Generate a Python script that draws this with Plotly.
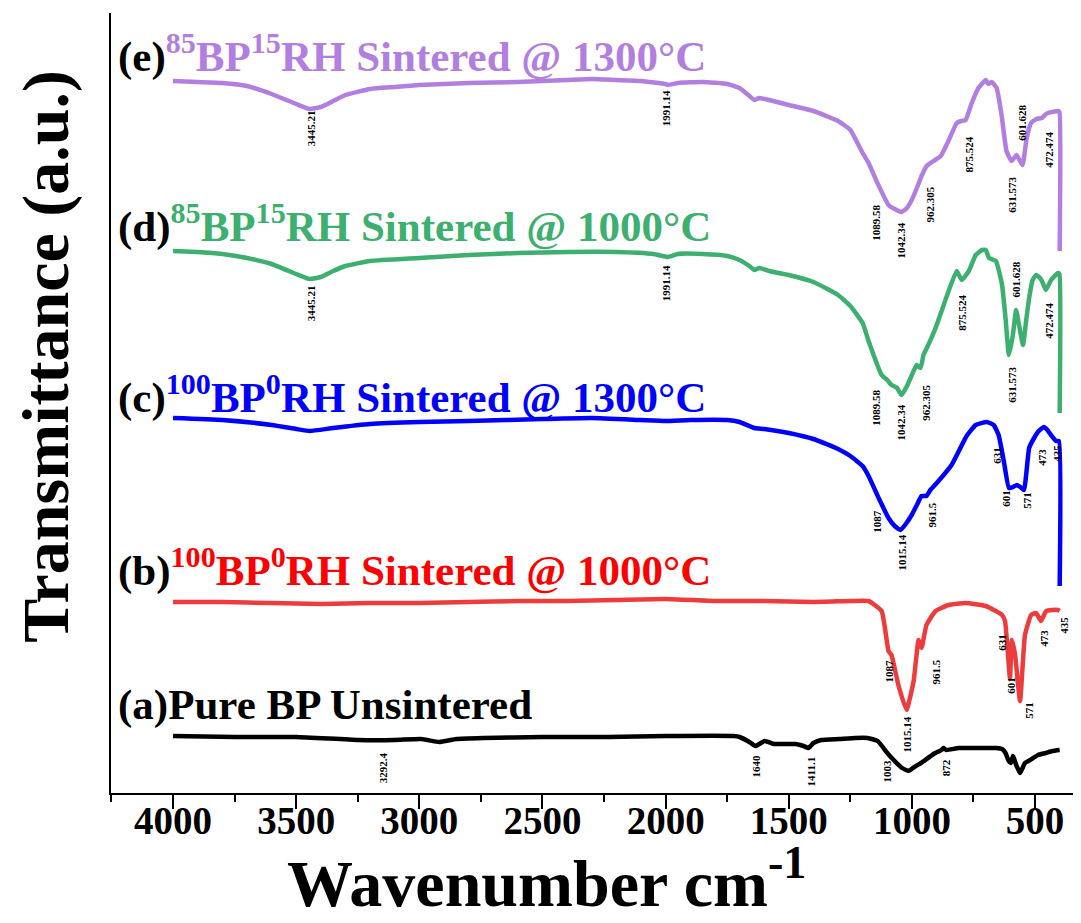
import plotly.graph_objects as go

# ---------------- data (offset-stacked transmittance, a.u.) ----------------
wn_e = [4000, 3900, 3800, 3700, 3600, 3500, 3445, 3400, 3350, 3300, 3200, 3100, 3000, 2900, 2800, 2600, 2400, 2300,
        2200, 2100, 2000, 1991, 1950, 1850, 1750, 1700, 1660, 1640, 1620, 1580, 1500, 1400, 1300, 1250, 1200, 1176,
        1140, 1095, 1070, 1042, 1020, 1001, 980, 961, 940, 912, 883, 850, 818, 800, 782, 757, 730, 700, 690, 676,
        656, 636, 616, 596, 585, 575, 551, 534, 516, 495, 472, 460, 448, 430, 407, 401, 400]
t_e = [7.27, 7.26, 7.25, 7.22, 7.14, 7.04, 6.99, 7.01, 7.07, 7.13, 7.19, 7.21, 7.23, 7.24, 7.25, 7.26, 7.28, 7.29,
       7.28, 7.27, 7.24, 7.23, 7.25, 7.26, 7.24, 7.20, 7.12, 7.08, 7.10, 7.08, 7.03, 6.97, 6.87, 6.78, 6.55, 6.45,
       6.25, 6.03, 5.99, 5.96, 6.00, 6.08, 6.20, 6.32, 6.42, 6.47, 6.52, 6.68, 6.85, 6.87, 6.88, 7.05, 7.20, 7.28, 7.24, 7.26,
       7.20, 6.93, 6.57, 6.47, 6.50, 6.53, 6.43, 6.70, 6.85, 6.89, 6.90, 6.93, 6.95, 6.96, 6.97, 6.96, 5.57]

wn_d = [4000, 3900, 3800, 3700, 3600, 3500, 3445, 3400, 3350, 3300, 3200, 3000, 2800, 2600, 2400, 2200, 2050, 1991,
        1950, 1850, 1750, 1700, 1660, 1640, 1620, 1580, 1500, 1400, 1300, 1250, 1200, 1176, 1123, 1100, 1083, 1060,
        1042, 1020, 993, 981, 965, 953, 930, 904, 851, 818, 798, 769, 741, 715, 700, 687, 659, 634, 620, 606, 590,
        577, 565, 549, 535, 524, 510, 496, 480, 472, 456, 435, 407, 401, 400]
t_d = [5.57, 5.56, 5.54, 5.50, 5.44, 5.34, 5.29, 5.31, 5.37, 5.42, 5.47, 5.50, 5.53, 5.55, 5.56, 5.56, 5.54, 5.51,
       5.54, 5.54, 5.52, 5.48, 5.42, 5.38, 5.40, 5.37, 5.33, 5.26, 5.13, 5.02, 4.85, 4.67, 4.33, 4.28, 4.23, 4.20,
       4.13, 4.22, 4.37, 4.43, 4.40, 4.53, 4.65, 4.80, 5.17, 5.37, 5.28, 5.37, 5.53, 5.58, 5.58, 5.50, 5.47, 5.23,
       4.90, 4.53, 4.73, 4.98, 4.83, 4.63, 4.90, 5.10, 5.28, 5.33, 5.30, 5.27, 5.18, 5.28, 5.35, 5.34, 3.95]

wn_c = [4000, 3800, 3600, 3500, 3445, 3350, 3200, 3000, 2800, 2500, 2300, 2100, 2000, 1900, 1750, 1700, 1640, 1600,
        1500, 1400, 1300, 1250, 1200, 1176, 1135, 1095, 1070, 1046, 1025, 1001, 980, 961, 941, 925, 892, 839, 778,
        741, 696, 668, 648, 627, 606, 590, 573, 560, 545, 524, 504, 485, 464, 450, 435, 415, 403, 400]
t_c = [3.90, 3.88, 3.83, 3.79, 3.77, 3.80, 3.84, 3.86, 3.87, 3.89, 3.90, 3.88, 3.87, 3.88, 3.88, 3.86, 3.80, 3.79,
       3.75, 3.69, 3.59, 3.52, 3.42, 3.32, 3.10, 2.90, 2.82, 2.78, 2.84, 2.93, 3.03, 3.12, 3.12, 3.18, 3.27, 3.43, 3.72,
       3.83, 3.86, 3.83, 3.73, 3.47, 3.20, 3.21, 3.23, 3.21, 3.18, 3.60, 3.70, 3.77, 3.81, 3.78, 3.73, 3.67, 3.67, 2.22]

wn_b = [4000, 3800, 3600, 3400, 3200, 3000, 2800, 2600, 2400, 2200, 2000, 1800, 1600, 1400, 1250, 1176, 1123, 1095,
        1083, 1055, 1022, 993, 973, 961, 941, 904, 851, 782, 700, 634, 622, 602, 594, 581, 561, 541, 516, 496, 476,
        455, 430, 407, 400]
t_b = [2.06, 2.06, 2.05, 2.04, 2.05, 2.05, 2.06, 2.07, 2.07, 2.08, 2.09, 2.07, 2.07, 2.06, 2.07, 2.07, 1.97, 1.57,
       1.53, 1.23, 0.98, 1.27, 1.68, 1.60, 1.83, 1.97, 2.03, 2.05, 2.02, 1.93, 1.87, 1.30, 1.68, 1.53, 1.07, 1.73,
       1.93, 1.95, 1.87, 1.97, 1.98, 1.98, 1.97]

wn_a = [4000, 3750, 3500, 3248, 3100, 2994, 2919, 2850, 2740, 2500, 2232, 2000, 1724, 1700, 1660, 1635, 1598, 1560,
        1534, 1471, 1440, 1420, 1400, 1369, 1294, 1230, 1180, 1139, 1100, 1078, 1040, 1013, 990, 963, 912, 880, 872,
        861, 810, 700, 658, 634, 620, 607, 598, 590, 575, 561, 541, 520, 488, 457, 430, 400]
t_a = [0.72, 0.71, 0.71, 0.68, 0.68, 0.69, 0.66, 0.69, 0.70, 0.71, 0.71, 0.72, 0.72, 0.71, 0.66, 0.62, 0.67, 0.64,
       0.64, 0.64, 0.62, 0.60, 0.65, 0.68, 0.69, 0.70, 0.70, 0.67, 0.55, 0.49, 0.40, 0.37, 0.41, 0.45, 0.54, 0.58, 0.60,
       0.58, 0.60, 0.60, 0.60, 0.59, 0.55, 0.47, 0.45, 0.52, 0.42, 0.35, 0.45, 0.48, 0.53, 0.55, 0.57, 0.58]

# peak labels: text, x (cm-1), y (a.u.)
lab_e = ["3445.21", "1991.14", "1089.58", "1042.34", "962.305", "875.524", "631.573", "601.628", "472.474"]
lx_e = [3439, 1997, 1147, 1046, 925, 770, 595, 554, 444]
ly_e = [6.80, 7.00, 5.85, 5.67, 6.04, 6.53, 6.13, 6.85, 6.58]

lab_d = ["3445.21", "1991.14", "1089.58", "1042.34", "962.305", "875.524", "631.573", "601.628", "472.474"]
lx_d = [3439, 1997, 1147, 1046, 944, 798, 595, 579, 444]
ly_d = [5.05, 5.25, 4.00, 3.85, 4.05, 4.95, 4.23, 5.28, 4.87]

lab_c = ["1087", "1015.14", "961.5", "631", "601", "571", "473", "435"]
lx_c = [1143, 1042, 920, 656, 619, 534, 473, 412]
ly_c = [2.87, 2.55, 2.93, 3.53, 3.10, 3.08, 3.51, 3.55]

lab_b = ["1087", "1015.14", "961.5", "631", "601", "571", "473", "435"]
lx_b = [1095, 1018, 904, 635, 599, 526, 465, 384]
ly_b = [1.37, 0.74, 1.36, 1.66, 1.23, 0.98, 1.70, 1.83]

lab_a = ["3292.4", "1640", "1411.1", "1003", "872"]
lx_a = [3147, 1635, 1408, 1103, 861]
ly_a = [0.40, 0.42, 0.37, 0.37, 0.40]

names = ["(a)", "(b)", "(c)", "(d)", "(e)"]
titles = ["Pure BP Unsintered",
          "<sup>100</sup>BP<sup>0</sup>RH Sintered @ 1000°C",
          "<sup>100</sup>BP<sup>0</sup>RH Sintered @ 1300°C",
          "<sup>85</sup>BP<sup>15</sup>RH Sintered @ 1000°C",
          "<sup>85</sup>BP<sup>15</sup>RH Sintered @ 1300°C"]
line_colors = ["#000000", "#EE3B3B", "#0000FF", "#3DAF6E", "#B27FE0"]
text_colors = ["#000000", "#FF0000", "#0000FF", "#3DAF6E", "#B27FE0"]

series = [(wn_a, t_a), (wn_b, t_b), (wn_c, t_c), (wn_d, t_d), (wn_e, t_e)]
labels = [(lab_a, lx_a, ly_a), (lab_b, lx_b, ly_b), (lab_c, lx_c, ly_c), (lab_d, lx_d, ly_d), (lab_e, lx_e, ly_e)]

FONT = "Liberation Serif"

fig = go.Figure()
for (x, y), col, nm in zip(series, line_colors, names):
    fig.add_trace(go.Scatter(x=x, y=y, mode="lines", name=nm,
                             line=dict(color=col, width=4.5, shape="spline", smoothing=0.4),
                             showlegend=False, hoverinfo="skip"))

ann = []
for (txt, xs, ys) in labels:
    for t, xx, yy in zip(txt, xs, ys):
        ann.append(dict(x=xx, y=yy, xref="x", yref="y", text="<b>%s</b>" % t, showarrow=False,
                        textangle=-90, xanchor="center", yanchor="middle",
                        font=dict(family=FONT, size=11, color="black")))

# series titles (positions in paper coords)
title_y = [0.113, 0.289, 0.511, 0.730, 0.948]
for nm, tt, tc, yy in zip(names, titles, text_colors, title_y):
    ann.append(dict(x=0.005, y=yy, xref="paper", yref="paper", xanchor="left", yanchor="middle",
                    showarrow=False,
                    text="<b>%s<span style='color:%s'>%s</span></b>" % (nm, tc, tt),
                    font=dict(family=FONT, size=43, color="black")))

# axis titles
ann.append(dict(x=-0.066, y=0.560, xref="paper", yref="paper", textangle=-90, showarrow=False,
                xanchor="center", yanchor="middle", text="<b>Transmittance (a.u.)</b>",
                font=dict(family=FONT, size=66, color="black")))
ann.append(dict(x=0.445, y=-0.166, xref="paper", yref="paper", showarrow=False,
                xanchor="center", yanchor="bottom", text="<b>Wavenumber cm<sup>-1</sup></b>",
                font=dict(family=FONT, size=66, color="black")))

fig.update_layout(
    width=1081, height=923,
    margin=dict(l=103, r=0, t=5, b=138),
    paper_bgcolor="white", plot_bgcolor="white",
    annotations=ann,
    xaxis=dict(range=[4252, 281], showline=True, linecolor="black", linewidth=2,
               ticks="outside", ticklen=14, tickwidth=2, tickcolor="black",
               tick0=0, dtick=500, showgrid=False, zeroline=False,
               ticklabelstandoff=-22,
               tickfont=dict(family=FONT, size=39, color="black"),
               tickprefix="<b>", ticksuffix="</b>",
               minor=dict(ticks="outside", ticklen=7, tickwidth=2, tickcolor="black", dtick=250, showgrid=False)),
    yaxis=dict(range=[0.15, 7.95], showline=True, linecolor="black", linewidth=2,
               showticklabels=False, ticks="", showgrid=False, zeroline=False),
)

fig.write_html("out.html")
